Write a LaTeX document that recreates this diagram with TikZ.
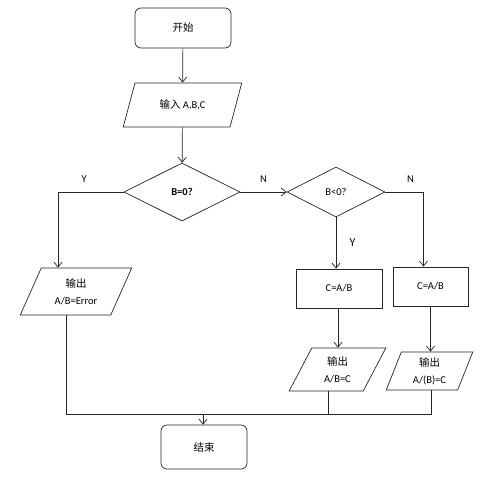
\documentclass[tikz,border=0pt]{standalone}
\usepackage{fontspec}
\setmainfont{Carlito}
\newfontfamily\cjk{Noto Sans CJK SC}
\usetikzlibrary{shapes.geometric,arrows.meta}
\tikzset{
    term/.style={draw, rounded corners=6pt, inner sep=0pt},
    io/.style={draw, trapezium, trapezium stretches, inner sep=0pt, align=center},
    proc/.style={draw, rectangle, inner sep=0pt},
    test/.style={draw, diamond, inner sep=0pt},
}
\begin{document}
\begin{tikzpicture}[x=1pt, y=-1pt, line width=0.7pt, draw=black!85,
    >={Straight Barb[length=5pt,width=8pt]},
    font=\fontsize{10.5}{17}\selectfont]
    \useasboundingbox (0,0) rectangle (500,479);
    \node[term, minimum width=96pt, minimum height=40pt] (start) at (183,28) {\cjk 开始};
    \node[io, trapezium left angle=61, trapezium right angle=119,
          minimum width=119pt, minimum height=44pt] (input) at (182.5,105) {{\cjk 输入} A,B,C};
    \node[test, minimum width=116pt, minimum height=58pt] (d1) at (182,192) {\bfseries B=0?};
    \node[test, minimum width=98pt, minimum height=50pt] (d2) at (336,192) {B<0?};
    \node[io, trapezium left angle=64, trapezium right angle=116,
          minimum width=112pt, minimum height=47pt] (err) at (76,291.5) {{\cjk 输出}\\A/B=Error};
    \node[proc, minimum width=86pt, minimum height=39pt] (c1) at (339,288.5) {C=A/B};
    \node[proc, minimum width=75pt, minimum height=39pt] (c2) at (430.5,286.5) {C=A/B};
    \node[io, trapezium left angle=66, trapezium right angle=114,
          minimum width=97pt, minimum height=43pt] (out2) at (337.5,369.5) {{\cjk 输出}\\A/B=C};
    \node[io, trapezium left angle=72, trapezium right angle=108,
          minimum width=87pt, minimum height=38pt] (out3) at (429.5,371) {{\cjk 输出}\\A/(B)=C};
    \node[term, minimum width=86pt, minimum height=44pt] (end) at (204,447) {\cjk 结束};
    \coordinate (m) at (203,414);
    % flow
    \draw[->] (start) -- (input);
    \draw[->] (input) -- (d1);
    \draw[->] (d1.west) -| node[pos=0.3, above=6pt] {Y} ([xshift=-18pt]err.north);
    \draw[->] (d1.east) -- node[above=6pt] {N} (d2.west);
    \draw[->] (d2.east) -| node[pos=0.33, above=6pt] {N} ([xshift=-7pt]c2.north);
    \draw[->] (d2.south) -- node[right=10pt, font=\fontsize{12}{14}\selectfont] {Y} (d2.south |- c1.north);
    \draw[->] ([xshift=-1pt]c1.south) -- ([xshift=-1pt]c1.south |- out2.north);
    \draw[->] (c2.south) -- (c2.south |- out3.north);
    % join
    \draw ([xshift=-10pt]err.south) |- (m);
    \draw ([xshift=-9.5pt]out2.south) |- (m);
    \draw ([xshift=1.5pt]out3.south) |- (m);
    \draw[->] (m) -- (m |- end.north);
\end{tikzpicture}
\end{document}
